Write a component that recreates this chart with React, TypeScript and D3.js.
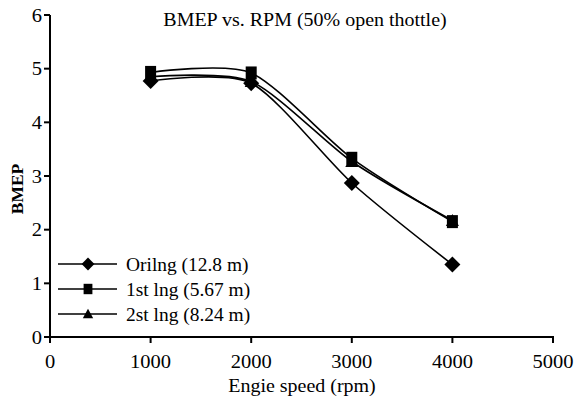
import React from "react";
import * as d3 from "d3";

const rpm = [1000, 2000, 3000, 4000];
const orilng = [4.77, 4.73, 2.87, 1.35];
const first = [4.93, 4.92, 3.33, 2.15];
const second = [4.85, 4.76, 3.27, 2.17];
const seriesNames = ["Orilng (12.8 m)", "1st lng (5.67 m)", "2st lng (8.24 m)"];
const xTicks = [0, 1000, 2000, 3000, 4000, 5000];
const yTicks = [0, 1, 2, 3, 4, 5, 6];

const W = 574;
const H = 399;
const FONT = "Liberation Serif, Times New Roman, Times, serif";

const x = d3.scaleLinear().domain([0, 5000]).range([50, 553]);
const y = d3.scaleLinear().domain([0, 6]).range([337, 15]);

const line = d3
  .line<[number, number]>()
  .x((d) => x(d[0]))
  .y((d) => y(d[1]))
  .curve(d3.curveCardinal.tension(0.25));

const series = [orilng, first, second];

function Marker({ i, cx, cy, s = 1 }: { i: number; cx: number; cy: number; s?: number }) {
  if (i === 0) {
    const r = 8 * s;
    return (
      <path
        d={`M${cx},${cy - r}L${cx + r},${cy}L${cx},${cy + r}L${cx - r},${cy}Z`}
        fill="#000"
      />
    );
  }
  if (i === 1) {
    const w = 11 * s;
    const h = 13 * s;
    return <rect x={cx - w / 2} y={cy - h / 2} width={w} height={h} fill="#000" />;
  }
  const hw = 6.5 * s;
  const h = 12 * s;
  return (
    <path
      d={`M${cx},${cy - h * 0.55}L${cx + hw},${cy + h * 0.45}L${cx - hw},${cy + h * 0.45}Z`}
      fill="#000"
    />
  );
}

// Text drawn slightly wide, as in the original typesetting
function T({
  x: tx,
  y: ty,
  size,
  anchor = "start",
  children,
}: {
  x: number;
  y: number;
  size: number;
  anchor?: "start" | "middle" | "end";
  children: React.ReactNode;
}) {
  return (
    <text transform={`translate(${tx},${ty}) scale(1.08,1)`} textAnchor={anchor} fontSize={size}>
      {children}
    </text>
  );
}

export default function App() {
  return (
    <svg width={W} height={H} style={{ position: "absolute", left: 0, top: 0, background: "#fff" }}>
      <rect width={W} height={H} fill="#fff" />
      <g style={{ fontFamily: FONT }}>
        <T x={305} y={26} size={18.5} anchor="middle">
          BMEP vs. RPM (50% open thottle)
        </T>

        {series.map((vals, i) => (
          <path
            key={i}
            d={line(rpm.map((r, j) => [r, vals[j]] as [number, number]))!}
            fill="none"
            stroke="#000"
            strokeWidth={1.6}
          />
        ))}
        {series.map((vals, i) =>
          rpm.map((r, j) => <Marker key={`${i}-${j}`} i={i} cx={x(r)} cy={y(vals[j])} />)
        )}

        {/* axes */}
        <line x1={x(0)} x2={x(0)} y1={y(6)} y2={y(0) + 1} stroke="#000" strokeWidth={2} />
        <line x1={x(0) - 1} x2={x(5000) + 1} y1={y(0)} y2={y(0)} stroke="#000" strokeWidth={2} />
        {yTicks.map((t) => (
          <g key={`y${t}`}>
            <line x1={x(0) - 6} x2={x(0)} y1={y(t)} y2={y(t)} stroke="#000" strokeWidth={2} />
            <T x={x(0) - 8} y={y(t) + 6.5} size={19} anchor="end">
              {t}
            </T>
          </g>
        ))}
        {xTicks.map((t) => (
          <g key={`x${t}`}>
            <line x1={x(t)} x2={x(t)} y1={y(0)} y2={y(0) + 6} stroke="#000" strokeWidth={2} />
            <T x={x(t)} y={y(0) + 31} size={19} anchor="middle">
              {t}
            </T>
          </g>
        ))}
        <T x={302} y={392} size={18.5} anchor="middle">
          Engie speed (rpm)
        </T>
        <text
          transform={`translate(23,189) rotate(-90)`}
          textAnchor="middle"
          fontSize={17.5}
          fontWeight="bold"
        >
          BMEP
        </text>

        {/* legend */}
        {seriesNames.map((name, i) => {
          const ly = 264 + i * 25;
          return (
            <g key={name}>
              <line x1={58} x2={117} y1={ly} y2={ly} stroke="#000" strokeWidth={1.6} />
              <Marker i={i} cx={88} cy={ly} s={0.8} />
              <T x={126} y={ly + 6.5} size={18}>
                {name}
              </T>
            </g>
          );
        })}
      </g>
    </svg>
  );
}
